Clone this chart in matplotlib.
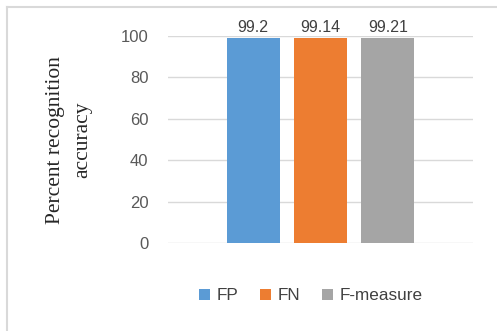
import matplotlib
matplotlib.use("Agg")
import matplotlib.pyplot as plt
from matplotlib.lines import Line2D
from matplotlib.patches import Patch

series = ["FP", "FN", "F-measure"]
values = [99.2, 99.14, 99.21]
labels = ["99.2", "99.14", "99.21"]
colors = ["#5b9bd5", "#ed7d31", "#a5a5a5"]
yticks = [0, 20, 40, 60, 80, 100]

W, H = 497, 331
fig = plt.figure(figsize=(W / 100, H / 100), dpi=100)
ax = fig.add_axes([168 / W, 1 - 243 / H, (473 - 168) / W, (243 - 36) / H])

offsets = [-0.221, 0.0, 0.221]
for off, v, c, lab in zip(offsets, values, colors, labels):
    ax.bar(off, v, width=0.174, color=c, zorder=3, label=None)
    ax.text(off, v + 1.3, lab, ha="center", va="bottom", fontsize=11.5,
            color="#404040", family="Liberation Sans")

ax.set_xlim(-0.5, 0.5)
ax.set_ylim(0, 100)
ax.set_yticks(yticks)
ax.set_yticklabels([str(t) for t in yticks], fontsize=12, color="#595959",
                   family="Liberation Sans")
ax.set_xticks([])
ax.tick_params(axis="y", length=0, pad=14)
ax.grid(axis="y", color="#d9d9d9", linewidth=1, zorder=0)
for s in ax.spines.values():
    s.set_visible(False)

fig.text(69 / W, 1 - 140 / H, "Percent recognition\naccuracy", rotation=90,
         ha="center", va="center", fontsize=15.5, family="Liberation Serif",
         color="#262626", multialignment="center", linespacing=1.55)

handles = [Patch(facecolor=c, edgecolor="none") for c in colors]
fig.legend(handles, series, loc="center", bbox_to_anchor=(311 / W, 1 - 296 / H),
           ncol=3, frameon=False, handlelength=0.6, handleheight=0.6,
           handletextpad=0.4, columnspacing=1.3,
           prop={"family": "Liberation Sans", "size": 12.3})
for t in fig.legends[0].get_texts():
    t.set_color("#404040")

fig.add_artist(Line2D([7 / W, 7 / W], [0, 1 - 7 / H], transform=fig.transFigure,
                      color="#d9d9d9", linewidth=1.5))
fig.add_artist(Line2D([7 / W, 1], [1 - 7 / H, 1 - 7 / H], transform=fig.transFigure,
                      color="#d9d9d9", linewidth=1.5))

fig.savefig("out.png", dpi=100)
